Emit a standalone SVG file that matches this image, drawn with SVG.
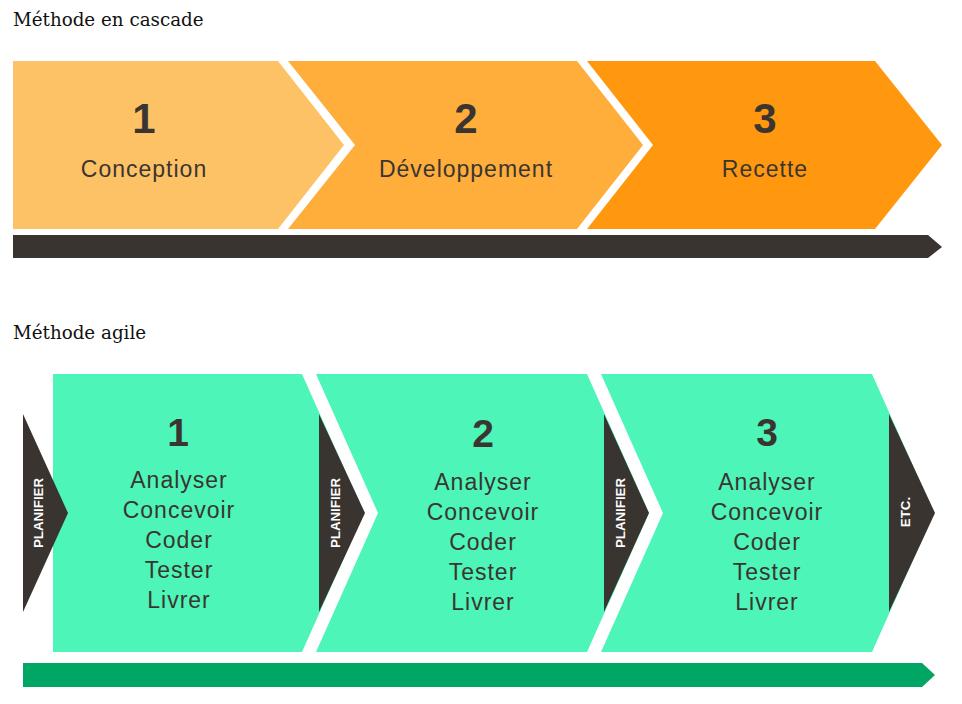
<svg xmlns="http://www.w3.org/2000/svg" width="962" height="704" viewBox="0 0 962 704">
<style>
.h{font-family:"DejaVu Serif","Liberation Serif",serif;font-size:18.3px;fill:#111111}
.num{font-family:"Liberation Sans",Arial,sans-serif;font-weight:bold;fill:#3a3530;text-anchor:middle}
.lbl{font-family:"Liberation Sans",Arial,sans-serif;font-size:23px;letter-spacing:1px;fill:#3a3530;text-anchor:middle}
.pl{font-family:"Liberation Sans",Arial,sans-serif;font-size:13.3px;font-weight:bold;fill:#ffffff;text-anchor:middle}
.dark{fill:#3a3430}
.g{fill:#4df5b8}
</style>
<rect width="962" height="704" fill="#ffffff"/>
<text class="h" x="13" y="26">Méthode en cascade</text>
<text class="h" x="13" y="339">Méthode agile</text>

<g id="cascade-1">
<polygon points="13,61 278,61 344,145 278,229 13,229" fill="#fec266"/>
<text class="num" x="144" y="133" font-size="42">1</text>
<text class="lbl" x="144" y="177">Conception</text>
</g>
<g id="cascade-2">
<polygon points="288,61 577,61 643,145 577,229 288,229 355,145" fill="#ffad3b"/>
<text class="num" x="466" y="133" font-size="42">2</text>
<text class="lbl" x="466" y="177">Développement</text>
</g>
<g id="cascade-3">
<polygon points="587,61 875,61 942,145 875,229 587,229 653,145" fill="#ff980f"/>
<text class="num" x="765" y="133" font-size="42">3</text>
<text class="lbl" x="765" y="177">Recette</text>
</g>

<g id="agile-1">
<polygon class="g" points="53,374 302,374 364,513 302,652 53,652"/>
<text class="num" x="178" y="446" font-size="39">1</text>
<text class="lbl" x="179" y="488">Analyser</text>
<text class="lbl" x="179" y="518">Concevoir</text>
<text class="lbl" x="179" y="548">Coder</text>
<text class="lbl" x="179" y="578">Tester</text>
<text class="lbl" x="179" y="608">Livrer</text>
</g>
<g id="agile-2">
<polygon class="g" points="316,374 587,374 649,513 587,652 316,652 378,513"/>
<text class="num" x="483" y="447" font-size="39">2</text>
<text class="lbl" x="483" y="490">Analyser</text>
<text class="lbl" x="483" y="520">Concevoir</text>
<text class="lbl" x="483" y="550">Coder</text>
<text class="lbl" x="483" y="580">Tester</text>
<text class="lbl" x="483" y="610">Livrer</text>
</g>
<g id="agile-3">
<polygon class="g" points="601,374 872,374 934,513 872,652 601,652 663,513"/>
<text class="num" x="767" y="446" font-size="39">3</text>
<text class="lbl" x="767" y="490">Analyser</text>
<text class="lbl" x="767" y="520">Concevoir</text>
<text class="lbl" x="767" y="550">Coder</text>
<text class="lbl" x="767" y="580">Tester</text>
<text class="lbl" x="767" y="610">Livrer</text>
</g>

<g id="planifier-1">
<polygon class="dark" points="23,414 68,513 23,612"/>
<text class="pl" transform="translate(43,513) rotate(-90)">PLANIFIER</text>
</g>
<g id="planifier-2">
<polygon class="dark" points="319,414 365,513 319,612"/>
<text class="pl" transform="translate(340,513) rotate(-90)">PLANIFIER</text>
</g>
<g id="planifier-3">
<polygon class="dark" points="604,414 649,513 604,612"/>
<text class="pl" transform="translate(625,513) rotate(-90)">PLANIFIER</text>
</g>
<g id="etc">
<polygon class="dark" points="889,414 935,513 889,612"/>
<text class="pl" transform="translate(910,512) rotate(-90)">ETC.</text>
</g>

<g id="connectors">
<polygon class="dark" points="13,235 928,235 942,247 928,258 13,258"/>
<polygon points="23,663 922,663 935,675 922,687 23,687" fill="#00a664"/>
</g>
</svg>
